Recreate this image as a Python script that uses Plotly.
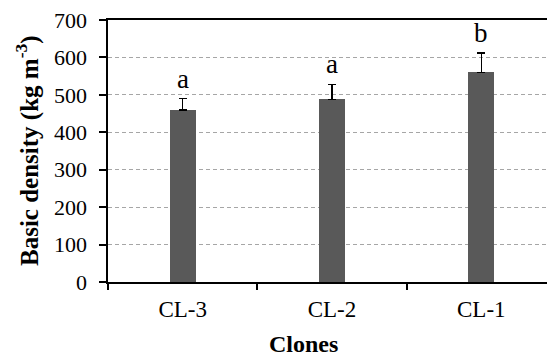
import plotly.graph_objects as go

# Basic density by clone (kg m^-3), with upper standard deviation and significance letters
clones = ["CL-3", "CL-2", "CL-1"]
density = [460, 488, 560]
density_sd = [30, 40, 52]
group_letters = ["a", "a", "b"]
y_ticks = [0, 100, 200, 300, 400, 500, 600, 700]
y_range = [0, 700]

SERIF = "Liberation Serif"
W, H = 547, 356
PLOT_LEFT = 108          # pixel position of the value axis line
LABEL_AXIS = 87          # pixel position the value labels hang from

fig = go.Figure()
fig.add_trace(go.Bar(
    x=clones,
    y=density,
    width=0.174,
    marker=dict(color="#595959", line=dict(width=0)),
    error_y=dict(
        type="data",
        array=density_sd,
        arrayminus=[0] * len(density_sd),
        symmetric=False,
        color="black",
        thickness=1.5,
        width=4,
    ),
    showlegend=False,
    hoverinfo="skip",
))
# Invisible companion trace so the label-only value axis is drawn
fig.add_trace(go.Scatter(
    x=clones, y=density, yaxis="y2",
    mode="markers", marker=dict(opacity=0),
    showlegend=False, hoverinfo="skip",
))

# Significance letters above the error bars
for c, v, s, letter in zip(clones, density, density_sd, group_letters):
    fig.add_annotation(
        x=c, y=v + s, xref="x", yref="y",
        text=letter, showarrow=False,
        yanchor="bottom", yshift=3,
        font=dict(family=SERIF, size=27, color="black"),
    )

# Axis titles
fig.add_annotation(
    x=27 / W, y=0.5, xref="paper", yref="paper",
    text="<b>Basic density (kg m<sup>-3</sup>)</b>",
    textangle=-90, showarrow=False,
    xanchor="center", yanchor="middle",
    font=dict(family=SERIF, size=25, color="black"),
)
fig.add_annotation(
    x=303 / W, y=-0.235, xref="paper", yref="paper",
    text="<b>Clones</b>", showarrow=False,
    xanchor="center", yanchor="middle",
    font=dict(family=SERIF, size=24, color="black"),
)

fig.update_layout(
    width=W, height=H,
    margin=dict(l=0, r=0, t=20, b=74, pad=0),
    paper_bgcolor="white", plot_bgcolor="white",
    font=dict(family=SERIF, color="black"),
    bargap=0,
    xaxis=dict(
        type="category",
        domain=[PLOT_LEFT / W, 1],
        range=[-0.5, 2.44],
        showline=True, linecolor="black", linewidth=1.5, mirror=True,
        ticks="outside", tickson="boundaries", ticklen=6,
        tickcolor="black", tickwidth=1.5,
        ticklabelstandoff=6,
        showgrid=False,
        tickfont=dict(family=SERIF, size=23, color="black"),
    ),
    yaxis=dict(
        range=y_range,
        tickvals=y_ticks,
        showticklabels=False,
        showline=True, linecolor="black", linewidth=1.5,
        ticks="outside", ticklen=7, tickcolor="black", tickwidth=1.5,
        showgrid=True, gridcolor="#a6a6a6", gridwidth=1, griddash="4px,3px",
        zeroline=False,
    ),
    yaxis2=dict(
        overlaying="y",
        anchor="free",
        position=LABEL_AXIS / W,
        side="left",
        range=y_range,
        tickvals=y_ticks,
        showline=False, ticks="", showgrid=False, zeroline=False,
        tickfont=dict(family=SERIF, size=22, color="black"),
    ),
)

fig.write_html("out.html")
